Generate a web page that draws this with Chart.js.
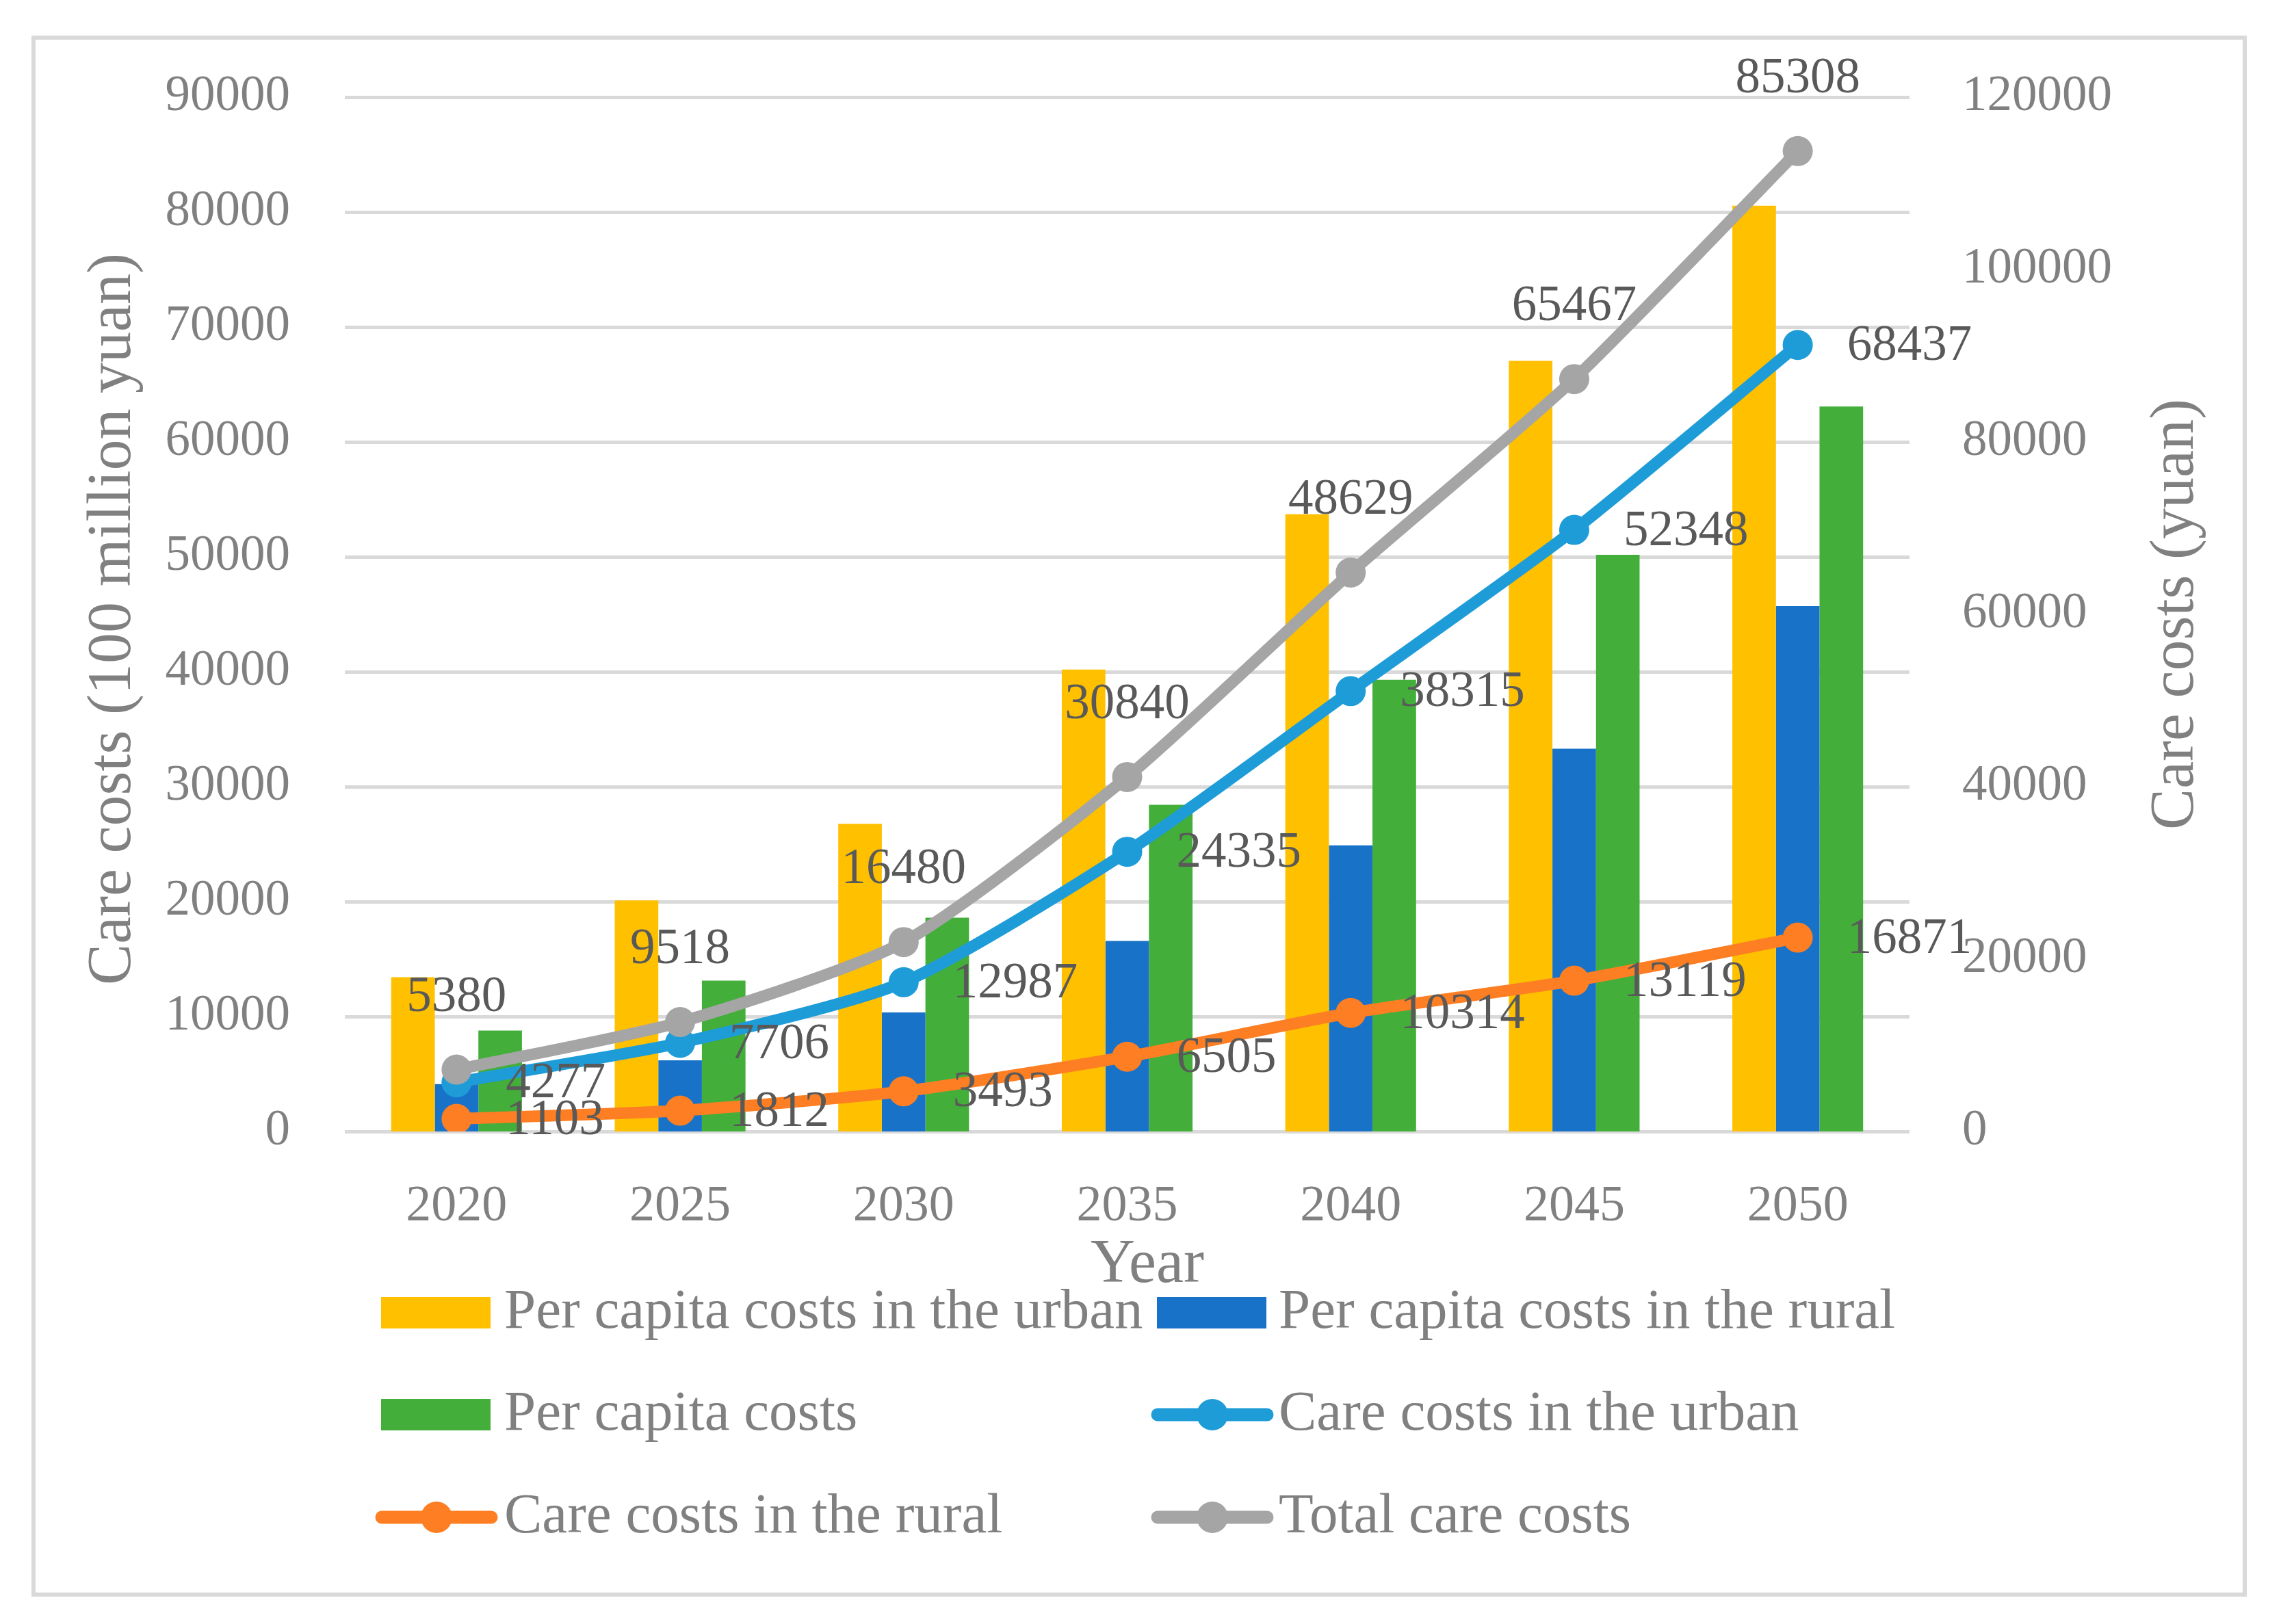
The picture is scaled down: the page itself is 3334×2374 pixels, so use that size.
<!DOCTYPE html>
<html><head><meta charset="utf-8">
<script src="https://cdn.jsdelivr.net/npm/chart.js@4.4.1/dist/chart.umd.min.js"></script>
<style>html,body{margin:0;padding:0;background:#fff;} #wrap{position:relative;width:3334px;height:2374px;}</style>
</head><body><div id="wrap"><canvas id="c" width="3334" height="2374" style="width:3334px;height:2374px"></canvas></div>
<script>
const years = ['2020','2025','2030','2035','2040','2045','2050'];
const perCapitaUrban = [17900, 26800, 35700, 53600, 71600, 89400, 107400];
const perCapitaRural = [5500, 8250, 13800, 22100, 33200, 44400, 60950];
const perCapitaAll  = [11700, 17500, 24800, 37900, 52400, 66900, 84100];
const careUrban = [4277, 7706, 12987, 24335, 38315, 52348, 68437];
const careRural = [1103, 1812, 3493, 6505, 10314, 13119, 16871];
const careTotal = [5380, 9518, 16480, 30840, 48629, 65467, 85308];
const leftTickValues = [0, 10000, 20000, 30000, 40000, 50000, 60000, 70000, 80000, 90000];
const rightTickValues = [0, 20000, 40000, 60000, 80000, 100000, 120000];
const seriesNames = ['Per capita costs in the urban','Per capita costs in the rural','Per capita costs','Care costs in the urban','Care costs in the rural','Total care costs'];
const leftTitle = 'Care costs (100 million yuan)';
const rightTitle = 'Care costs (yuan)';
const xTitle = 'Year';

const FONT = "'Liberation Serif', 'Times New Roman', serif";
const COLORS = ['#FFC000','#1872C8','#43AE3A','#1E9CD8','#FD7E23','#A5A5A5'];
const TICK = '#808080', LABEL = '#595959';

const deco = {
  id: 'deco',
  beforeDraw(chart) {
    const ctx = chart.ctx; ctx.save();
    ctx.fillStyle = '#fff'; ctx.fillRect(0, 0, chart.width, chart.height);
    ctx.strokeStyle = '#d9d9d9'; ctx.lineWidth = 6;
    ctx.strokeRect(49, 55, 3232, 2276);
    ctx.restore();
  },
  afterDatasetsDraw(chart) {
    const ctx = chart.ctx; ctx.save();
    ctx.font = '73px ' + FONT; ctx.fillStyle = LABEL;
    const modes = {3: 'right', 4: 'right', 5: 'above'};
    Object.keys(modes).forEach(k => {
      const i = +k; const meta = chart.getDatasetMeta(i); const ds = chart.data.datasets[i];
      meta.data.forEach((pt, j) => {
        const t = String(ds.data[j]);
        if (modes[k] === 'above') { ctx.textAlign = 'center'; ctx.textBaseline = 'middle'; ctx.fillText(t, pt.x, pt.y - 105); }
        else { ctx.textAlign = 'left'; ctx.textBaseline = 'middle'; ctx.fillText(t, pt.x + 72, pt.y + 3); }
      });
    });
    ctx.restore();
  },
  afterDraw(chart) {
    const ctx = chart.ctx; ctx.save();
    ctx.fillStyle = TICK; ctx.font = '90px ' + FONT; ctx.textAlign = 'center'; ctx.textBaseline = 'alphabetic';
    ctx.save(); ctx.translate(190, 905); ctx.rotate(-Math.PI / 2); ctx.fillText(leftTitle, 0, 0); ctx.restore();
    ctx.save(); ctx.translate(3205, 898); ctx.rotate(-Math.PI / 2); ctx.fillText(rightTitle, 0, 0); ctx.restore();
    ctx.fillText(xTitle, 1677, 1874);
    // legend
    const rows = [1919, 2068, 2218];
    const cols = [{box: 557, text: 737}, {box: 1691, text: 1869}];
    ctx.font = '83px ' + FONT; ctx.textAlign = 'left';
    seriesNames.forEach((name, i) => {
      const r = rows[Math.floor(i / 2)], c = cols[i % 2];
      const ds = chart.data.datasets[i];
      if (i < 3) {
        ctx.fillStyle = ds.backgroundColor; ctx.fillRect(c.box, r - 23, 160, 46);
      } else {
        ctx.strokeStyle = ds.borderColor; ctx.lineWidth = 19; ctx.lineCap = 'round';
        ctx.beginPath(); ctx.moveTo(c.box + 1, r); ctx.lineTo(c.box + 161, r); ctx.stroke();
        ctx.fillStyle = ds.borderColor; ctx.beginPath(); ctx.arc(c.box + 81, r, 23, 0, Math.PI * 2); ctx.fill();
      }
      ctx.fillStyle = TICK; ctx.fillText(name, c.text, r + 22);
    });
    ctx.restore();
  }
};

const barDs = (label, data, color) => ({type: 'bar', label, data, backgroundColor: color, borderWidth: 0, yAxisID: 'y2', order: 10, categoryPercentage: 0.585, barPercentage: 1.0});
const lineDs = (label, data, color, order) => ({type: 'line', label, data, borderColor: color, backgroundColor: color, borderWidth: 17, pointRadius: 22, pointBorderWidth: 0, pointBackgroundColor: color, tension: 0.22, fill: false, yAxisID: 'y', order});

new Chart(document.getElementById('c'), {
  data: {
    labels: years,
    datasets: [
      barDs(seriesNames[0], perCapitaUrban, COLORS[0]),
      barDs(seriesNames[1], perCapitaRural, COLORS[1]),
      barDs(seriesNames[2], perCapitaAll, COLORS[2]),
      lineDs(seriesNames[3], careUrban, COLORS[3], 3),
      lineDs(seriesNames[4], careRural, COLORS[4], 2),
      lineDs(seriesNames[5], careTotal, COLORS[5], 1)
    ]
  },
  options: {
    responsive: false, devicePixelRatio: 1, animation: false,
    layout: {padding: {top: 142, bottom: 470, left: 0, right: 0}},
    plugins: {legend: {display: false}, tooltip: {enabled: false}, title: {display: false}},
    scales: {
      x: {grid: {display: false, drawTicks: false}, border: {display: false},
          ticks: {font: {family: FONT, size: 74}, color: TICK, padding: 66},
          afterFit(s) { s.height = 250; }},
      y: {position: 'left', min: 0, max: 90000,
          grid: {color: '#d9d9d9', lineWidth: 5, drawTicks: false}, border: {display: false},
          afterBuildTicks(s) { s.ticks = leftTickValues.map(v => ({value: v})); },
          ticks: {font: {family: FONT, size: 73}, color: TICK, padding: 80, callback: v => String(v)},
          afterFit(s) { s.width = 504; }},
      y2: {position: 'right', min: 0, max: 120000,
          grid: {display: false, drawTicks: false}, border: {display: false},
          afterBuildTicks(s) { s.ticks = rightTickValues.map(v => ({value: v})); },
          ticks: {font: {family: FONT, size: 73}, color: TICK, padding: 77, callback: v => String(v)},
          afterFit(s) { s.width = 543; }}
    }
  },
  plugins: [deco]
});
</script></body></html>
